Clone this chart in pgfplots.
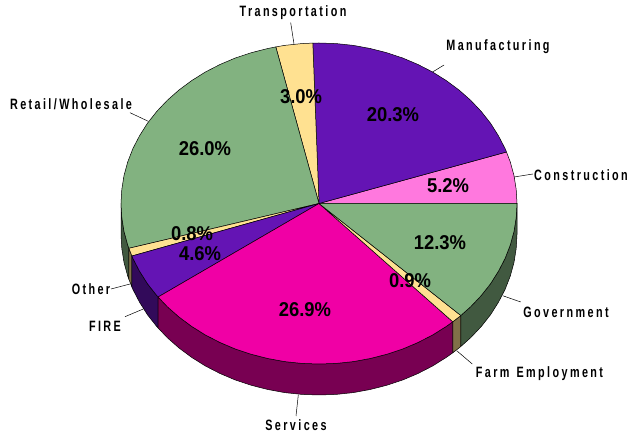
\documentclass[border=0pt]{standalone}
\usepackage{fontspec}
\setmainfont{Liberation Sans}
\newfontfamily\lab[FakeStretch=0.72,LetterSpace=16]{Liberation Sans Bold}
\newfontfamily\pctf[FakeStretch=0.92]{Liberation Sans Bold}
\usepackage{pgfplots}
\pgfplotsset{compat=1.18}
\definecolor{cGreen}{RGB}{130,178,128}
\definecolor{cGreenD}{RGB}{65,89,64}
\definecolor{cPink}{RGB}{255,120,222}
\definecolor{cPurple}{RGB}{100,20,180}
\definecolor{cPurpleD}{RGB}{50,10,90}
\definecolor{cYellow}{RGB}{255,225,145}
\definecolor{cYellowD}{RGB}{128,112,72}
\definecolor{cMag}{RGB}{240,0,165}
\definecolor{cMagD}{RGB}{120,0,82}
\begin{document}
\begin{tikzpicture}[
  slab/.style={font=\lab\fontsize{15}{15}\selectfont,inner sep=0pt,anchor=center},
  pct/.style={font=\pctf\fontsize{20}{20}\selectfont,inner sep=0pt,anchor=center,text height=14pt,text depth=0pt}]
\begin{axis}[scale only axis,width=630pt,height=435pt,xmin=0,xmax=630,ymin=0,ymax=435,
  y dir=reverse,hide axis,clip=false,no markers,cycle list={{black}},
  every axis plot/.append style={line width=0.5pt,line join=round}]
\path (axis cs:0,0) rectangle (axis cs:630,435);
% side walls
\addplot[draw=black,fill=cGreenD] coordinates {(121,203.5)(121.8,217.5)(124,231.4)(127.7,245)(128.9,248.3)(128.9,279.3)(127.7,276)(124,262.4)(121.8,248.5)(121,234.5)} --cycle;
\addplot[draw=black,fill=cYellowD] coordinates {(128.9,248.3)(131.9,256)(131.9,287)(128.9,279.3)} --cycle;
\addplot[draw=black,fill=cPurpleD] coordinates {(131.9,256)(132.9,258.4)(139.6,271.3)(147.5,283.8)(156.8,295.6)(158.1,297)(158.1,328)(156.8,326.6)(147.5,314.8)(139.6,302.3)(132.9,289.4)(131.9,287)} --cycle;
\addplot[draw=black,fill=cMagD] coordinates {(158.1,297)(167.3,306.7)(179,317)(191.7,326.4)(205.4,335)(220,342.5)(235.3,349)(251.3,354.3)(267.8,358.5)(284.6,361.6)(301.7,363.4)(319,364)(336.3,363.4)(353.4,361.6)(370.2,358.5)(386.7,354.3)(402.7,349)(418,342.5)(432.6,335)(446.3,326.4)(452.8,321.8)(452.8,352.8)(446.3,357.4)(432.6,366)(418,373.5)(402.7,380)(386.7,385.3)(370.2,389.5)(353.4,392.6)(336.3,394.4)(319,395)(301.7,394.4)(284.6,392.6)(267.8,389.5)(251.3,385.3)(235.3,380)(220,373.5)(205.4,366)(191.7,357.4)(179,348)(167.3,337.7)(158.1,328)} --cycle;
\addplot[draw=black,fill=cYellowD] coordinates {(452.8,321.8)(459,317)(460.8,315.5)(460.8,346.5)(459,348)(452.8,352.8)} --cycle;
\addplot[draw=black,fill=cGreenD] coordinates {(460.8,315.5)(470.7,306.7)(481.2,295.6)(490.5,283.8)(498.4,271.3)(505.1,258.4)(510.3,245)(514,231.4)(516.2,217.5)(517,203.5)(517,234.5)(516.2,248.5)(514,262.4)(510.3,276)(505.1,289.4)(498.4,302.3)(490.5,314.8)(481.2,326.6)(470.7,337.7)(460.8,346.5)} --cycle;
% top face
\addplot[draw=black,fill=cPink] coordinates {(319,203.5)(517,203.5)(516.2,189.5)(514,175.6)(510.3,162)(506.5,152)} --cycle;
\addplot[draw=black,fill=cPurple] coordinates {(319,203.5)(506.5,152)(505.1,148.6)(498.4,135.7)(490.5,123.2)(481.2,111.4)(470.7,100.3)(459,90)(446.3,80.6)(432.6,72)(418,64.5)(402.7,58)(386.7,52.7)(370.2,48.5)(353.4,45.4)(336.3,43.6)(319,43)(312.8,43.1)} --cycle;
\addplot[draw=black,fill=cYellow] coordinates {(319,203.5)(312.8,43.1)(301.7,43.6)(284.6,45.4)(275.8,46.9)} --cycle;
\addplot[draw=black,fill=cGreen] coordinates {(319,203.5)(275.8,46.9)(267.8,48.5)(251.3,52.7)(235.3,58)(220,64.5)(205.4,72)(191.7,80.6)(179,90)(167.3,100.3)(156.8,111.4)(147.5,123.2)(139.6,135.7)(132.9,148.6)(127.7,162)(124,175.6)(121.8,189.5)(121,203.5)(121.8,217.5)(124,231.4)(127.7,245)(128.9,248.3)} --cycle;
\addplot[draw=black,fill=cYellow] coordinates {(319,203.5)(128.9,248.3)(131.9,256)} --cycle;
\addplot[draw=black,fill=cPurple] coordinates {(319,203.5)(131.9,256)(132.9,258.4)(139.6,271.3)(147.5,283.8)(156.8,295.6)(158.1,297)} --cycle;
\addplot[draw=black,fill=cMag] coordinates {(319,203.5)(158.1,297)(167.3,306.7)(179,317)(191.7,326.4)(205.4,335)(220,342.5)(235.3,349)(251.3,354.3)(267.8,358.5)(284.6,361.6)(301.7,363.4)(319,364)(336.3,363.4)(353.4,361.6)(370.2,358.5)(386.7,354.3)(402.7,349)(418,342.5)(432.6,335)(446.3,326.4)(452.8,321.8)} --cycle;
\addplot[draw=black,fill=cYellow] coordinates {(319,203.5)(452.8,321.8)(459,317)(460.8,315.5)} --cycle;
\addplot[draw=black,fill=cGreen] coordinates {(319,203.5)(460.8,315.5)(470.7,306.7)(481.2,295.6)(490.5,283.8)(498.4,271.3)(505.1,258.4)(510.3,245)(514,231.4)(516.2,217.5)(517,203.5)} --cycle;
% leaders
\addplot[black] coordinates {(290.7,22.7)(294,44)};
\addplot[black] coordinates {(444,65)(432.6,72)};
\addplot[black] coordinates {(533,174)(514,177)};
\addplot[black] coordinates {(520.7,302)(502.7,295.7)};
\addplot[black] coordinates {(472.3,364)(456.7,350.7)};
\addplot[black] coordinates {(296,416)(298.3,395)};
\addplot[black] coordinates {(130,112.7)(148.3,121.3)};
\addplot[black] coordinates {(111,289)(130,284)};
\addplot[black] coordinates {(125,316.7)(143.3,309)};
% category labels
\node[slab] at (axis cs:293,13) {Transportation};
\node[slab] at (axis cs:498,47) {Manufacturing};
\node[slab] at (axis cs:581,175) {Construction};
\node[slab] at (axis cs:566,312) {Government};
\node[slab] at (axis cs:539.5,374) {Farm\hspace{7pt}Employment};
\node[slab] at (axis cs:296,425) {Services};
\node[slab] at (axis cs:105,326) {FIRE};
\node[slab] at (axis cs:91,289) {Other};
\node[slab] at (axis cs:71,104) {Retail/Wholesale};
% percentages
\node[pct] at (axis cs:301,97) {3.0\%};
\node[pct] at (axis cs:393,115) {20.3\%};
\node[pct] at (axis cs:448,186) {5.2\%};
\node[pct] at (axis cs:440,243) {12.3\%};
\node[pct] at (axis cs:410,281) {0.9\%};
\node[pct] at (axis cs:305,310) {26.9\%};
\node[pct] at (axis cs:200,253.5) {4.6\%};
\node[pct] at (axis cs:192,234) {0.8\%};
\node[pct] at (axis cs:205,149) {26.0\%};
\end{axis}
\end{tikzpicture}
\end{document}
